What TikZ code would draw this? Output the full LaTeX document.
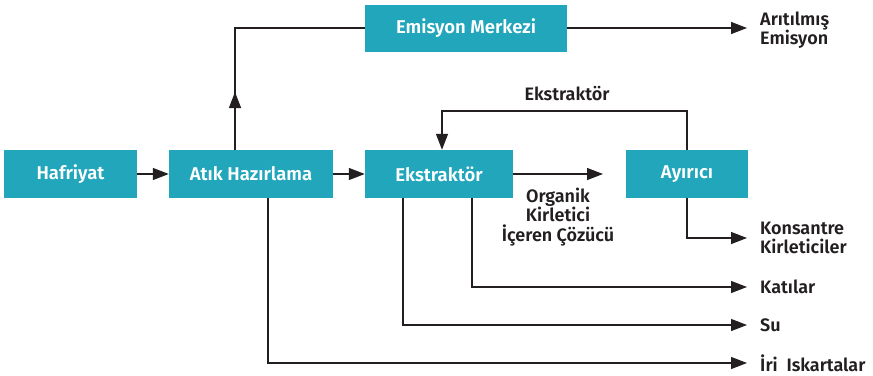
\documentclass[tikz,border=0pt]{standalone}
\usepackage{fontspec}
\setmainfont{Fira Sans}[BoldFont={Fira Sans SemiBold}]
\usetikzlibrary{arrows.meta}
\definecolor{tealbox}{HTML}{22A6BB}
\definecolor{ink}{HTML}{231F20}
\begin{document}
\begin{tikzpicture}[x=1pt,y=-1pt,
  box/.style={fill=tealbox, text=white, font=\fontsize{18.5}{20}\selectfont\bfseries, inner sep=0pt, minimum height=48pt},
  lab/.style={text=ink, font=\fontsize{18}{19.5}\selectfont\bfseries, inner sep=0pt},
  outlab/.style={lab, anchor=west, align=left},
  conn/.style={draw=ink, line width=1.3pt},
  arr/.style={conn, -{Triangle[length=16pt,width=12pt]}},
  arrout/.style={arr, shorten >=13pt}]
\useasboundingbox (0,0) rectangle (873,375);
% boxes
\node[box, minimum width=133pt] (haf) at (70.5,174) {Hafriyat};
\node[box, minimum width=164pt] (atik) at (251,174) {Atık Hazırlama};
\node[box, minimum width=148pt] (eks) at (439,174) {Ekstraktör};
\node[box, minimum width=122pt] (ayr) at (687,174) {Ayırıcı};
\node[box, minimum width=202pt, minimum height=47pt] (emis) at (466,28.5) {Emisyon Merkezi};
% output labels
\node[outlab] (arit) at (760,30) {Arıtılmış\\Emisyon};
\node[outlab] (kons) at (760,238) {Konsantre\\Kirleticiler};
\node[outlab] (kat) at (760,287) {Katılar};
\node[outlab] (su) at (760,325) {Su};
\node[outlab] (iri) at (760,363) {İri~ Iskartalar};
\node[lab, align=center] (org) at (558,217) {Organik\\Kirletici\\İçeren Çözücü};
\node[lab] (rlab) at (567,94) {Ekstraktör};
% helper coordinates
\coordinate (up) at (235,28);
\coordinate (upa) at (235,92);
\coordinate (oc) at (603,174);
\coordinate (rt) at (442,111);
\coordinate (kx) at (472,0);
\coordinate (sx) at (403,0);
\coordinate (ix) at (268,0);
% connectors
\draw[arr] (haf) -- (atik);
\draw[arr] (atik) -- (eks);
\draw[conn] (atik.north -| up) -- (up) -- (emis.west |- up);
\draw[arr] (atik.north -| up) -- (upa);
\draw[arrout] (emis.east |- up) -- (arit.west |- up);
\draw[arr] (eks.east) -- (oc);
\draw[arr] (ayr.north) |- (rt) -- (eks.north -| rt);
\draw[arrout] (ayr.south) |- (kons.west);
\draw[arrout] (eks.south -| kx) |- (kat.west);
\draw[arrout] (eks.south -| sx) |- (su.west);
\draw[arrout] (atik.south -| ix) |- (iri.west);
\end{tikzpicture}
\end{document}
